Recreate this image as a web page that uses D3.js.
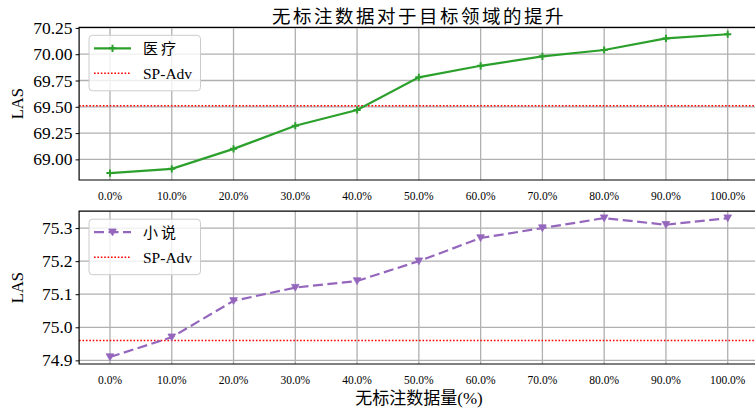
<!DOCTYPE html>
<html>
<head>
<meta charset="utf-8">
<script src="https://cdn.jsdelivr.net/npm/d3@7"></script>
<style>
  html, body { margin: 0; padding: 0; background: #fff; }
  svg { display: block; }
  text { font-family: "Liberation Serif", "Noto Sans CJK SC", serif; fill: #000; }
  .cjk { font-family: "Noto Sans CJK SC", sans-serif; }
</style>
</head>
<body>
<svg id="chart" width="755" height="411"></svg>
<script>
// Share of unlabelled data used
const ratios = ["0.0%", "10.0%", "20.0%", "30.0%", "40.0%", "50.0%", "60.0%", "70.0%", "80.0%", "90.0%", "100.0%"];

// LAS on the medical domain, with the SP-Adv baseline
const medicalLAS = [68.87, 68.91, 69.10, 69.32, 69.47, 69.78, 69.89, 69.98, 70.04, 70.15, 70.19];
const medicalBaseline = 69.51;
const medicalTicks = [69.00, 69.25, 69.50, 69.75, 70.00, 70.25];

// LAS on the novel domain, with the SP-Adv baseline
const novelLAS = [74.91, 74.97, 75.08, 75.12, 75.14, 75.20, 75.27, 75.30, 75.33, 75.31, 75.33];
const novelBaseline = 74.96;
const novelTicks = [74.9, 75.0, 75.1, 75.2, 75.3];

const svg = d3.select("#chart");

const left = 79.1, right = 758.6;
const x = d3.scaleLinear().domain([-0.5, ratios.length - 0.5]).range([left, right]);

// pad the value range by 5% on each side
function paddedDomain(vals) {
  const [lo, hi] = d3.extent(vals);
  const m = (hi - lo) * 0.05;
  return [lo - m, hi + m];
}

const plusPath = "M-3.6,0H3.6M0,-3.6V3.6";
const trianglePath = "M-3.8,-3.2L3.8,-3.2L0,3.6Z";

function panel(opts) {
  const { top, bottom, values, baseline, ticks, fmt, color, dash, marker, label } = opts;
  const y = d3.scaleLinear().domain(paddedDomain(values)).range([bottom, top]);
  const g = svg.append("g");

  // grid
  g.append("g").selectAll("line").data(ratios).join("line")
    .attr("x1", (d, i) => x(i)).attr("x2", (d, i) => x(i))
    .attr("y1", top).attr("y2", bottom)
    .attr("stroke", "#b0b0b0").attr("stroke-width", 1.3);
  g.append("g").selectAll("line").data(ticks).join("line")
    .attr("x1", left).attr("x2", right)
    .attr("y1", d => y(d)).attr("y2", d => y(d))
    .attr("stroke", "#b0b0b0").attr("stroke-width", 1.3);

  // y axis
  const yAxis = g.append("g").attr("transform", `translate(${left},0)`)
    .call(d3.axisLeft(y).tickValues(ticks).tickFormat(fmt).tickSizeInner(3.5).tickSizeOuter(0).tickPadding(3));
  yAxis.select(".domain").remove();
  yAxis.selectAll("line").attr("stroke", "#000").attr("stroke-width", 1);
  yAxis.selectAll("text").attr("font-size", 17.5)
    .attr("font-family", "Liberation Serif").attr("fill", "#000");

  // x tick labels
  g.append("g").selectAll("text").data(ratios).join("text")
    .attr("x", (d, i) => x(i)).attr("y", bottom + 20)
    .attr("text-anchor", "middle").attr("font-size", 11.5).attr("fill", "#222")
    .text(d => d);

  // baseline
  g.append("line")
    .attr("x1", left).attr("x2", right)
    .attr("y1", y(baseline)).attr("y2", y(baseline))
    .attr("stroke", "#ff0000").attr("stroke-width", 1.6).attr("stroke-dasharray", "1.6,1.8");

  // series
  const line = d3.line().x((d, i) => x(i)).y(d => y(d));
  g.append("path").datum(values)
    .attr("d", line).attr("fill", "none")
    .attr("stroke", color).attr("stroke-width", 2.2)
    .attr("stroke-dasharray", dash || null);
  g.append("g").selectAll("path").data(values).join("path")
    .attr("transform", (d, i) => `translate(${x(i)},${y(d)})`)
    .attr("d", marker)
    .attr("fill", marker === plusPath ? "none" : color)
    .attr("stroke", color).attr("stroke-width", marker === plusPath ? 2 : 0.8);

  // frame
  g.append("path")
    .attr("d", `M${right},${top}H${left}V${bottom}H${right}`)
    .attr("fill", "none").attr("stroke", "#000").attr("stroke-width", 1.2);

  // y label
  g.append("text")
    .attr("transform", `translate(23,${(top + bottom) / 2}) rotate(-90)`)
    .attr("text-anchor", "middle").attr("font-size", 16.5).text("LAS");

  // legend
  const lg = g.append("g").attr("transform", `translate(89,${top + 8})`);
  lg.append("rect").attr("width", 111.5).attr("height", 55.5).attr("rx", 3.5)
    .attr("fill", "#fff").attr("fill-opacity", 0.8)
    .attr("stroke", "#cccccc").attr("stroke-width", 1);
  lg.append("line").attr("x1", 5).attr("x2", 42).attr("y1", 13).attr("y2", 13)
    .attr("stroke", color).attr("stroke-width", 2.2).attr("stroke-dasharray", dash || null);
  lg.append("path").attr("transform", "translate(23.5,13)").attr("d", marker)
    .attr("fill", marker === plusPath ? "none" : color)
    .attr("stroke", color).attr("stroke-width", marker === plusPath ? 2 : 0.8);
  lg.append("text").attr("class", "cjk").attr("x", 54).attr("y", 19)
    .attr("font-size", 15).attr("letter-spacing", 3).text(label);
  lg.append("line").attr("x1", 5).attr("x2", 42).attr("y1", 38).attr("y2", 38)
    .attr("stroke", "#ff0000").attr("stroke-width", 1.6).attr("stroke-dasharray", "1.6,1.8");
  lg.append("text").attr("x", 54).attr("y", 43.5).attr("font-size", 15.5).text("SP-Adv");
}

panel({
  top: 27.3, bottom: 180, values: medicalLAS, baseline: medicalBaseline,
  ticks: medicalTicks, fmt: d3.format(".2f"), color: "#2ca02c", dash: null,
  marker: plusPath, label: "医疗"
});
panel({
  top: 211.2, bottom: 364, values: novelLAS, baseline: novelBaseline,
  ticks: novelTicks, fmt: d3.format(".1f"), color: "#9467bd", dash: "10,4.5",
  marker: trianglePath, label: "小说"
});

// title and x label
svg.append("text").attr("class", "cjk")
  .attr("x", 419).attr("y", 22.5).attr("text-anchor", "middle")
  .attr("font-size", 18.5).attr("letter-spacing", 2.5).text("无标注数据对于目标领域的提升");
svg.append("text")
  .attr("x", 419).attr("y", 404).attr("text-anchor", "middle")
  .attr("font-size", 17).text("无标注数据量(%)");
</script>
</body>
</html>
